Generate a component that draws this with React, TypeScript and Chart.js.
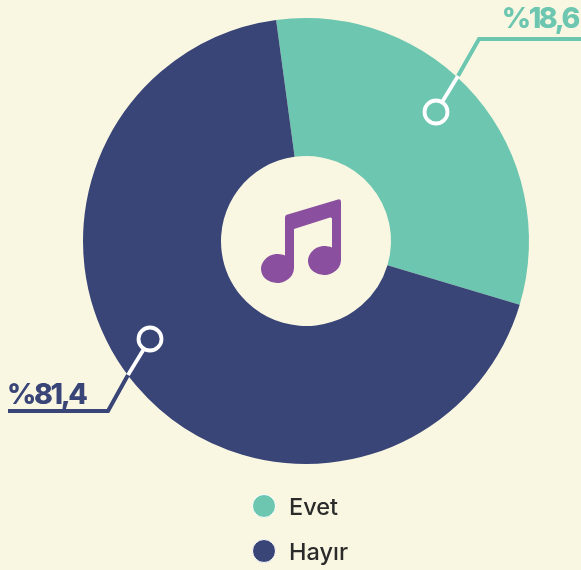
import React, { useEffect, useRef } from "react";
import { Chart, registerables } from "chart.js";

Chart.register(...registerables);

// The printed figures and the drawn slice angles disagree in the reference; both are kept as seen.
const categories = ["Evet", "Hayır"];
const printedLabels = ["%18,6", "%81,4"];
const sliceShares = [31.75, 68.25];
const sliceColors = ["#6DC6B0", "#3A4577"];
const BG = "#F9F7E2";
const NOTE = "#8A4F9E";
const FONT = "Inter, 'Noto Sans', sans-serif";

const overlay = {
  id: "overlay",
  afterDatasetsDraw(chart: any) {
    const ctx = chart.ctx as CanvasRenderingContext2D;
    const arc = chart.getDatasetMeta(0).data[0];
    const cx = arc.x;
    const cy = arc.y;
    ctx.save();
    ctx.translate(cx, cy);
    ctx.lineJoin = "miter";

    const leader = (
      color: string,
      c: [number, number],
      edge: [number, number],
      knee: [number, number],
      end: [number, number],
    ) => {
      const dx = edge[0] - c[0];
      const dy = edge[1] - c[1];
      const len = Math.hypot(dx, dy);
      ctx.lineWidth = 4;
      ctx.strokeStyle = color;
      ctx.beginPath();
      ctx.moveTo(edge[0], edge[1]);
      ctx.lineTo(knee[0], knee[1]);
      ctx.lineTo(end[0], end[1]);
      ctx.stroke();
      ctx.strokeStyle = "#FFFFFF";
      ctx.lineWidth = 3.8;
      ctx.beginPath();
      ctx.moveTo(c[0] + (dx / len) * 12, c[1] + (dy / len) * 12);
      ctx.lineTo(edge[0], edge[1]);
      ctx.stroke();
      ctx.beginPath();
      ctx.arc(c[0], c[1], 11.5, 0, Math.PI * 2);
      ctx.stroke();
    };
    leader(sliceColors[0], [130, -129], [152, -165], [173, -202], [275, -202]);
    leader(sliceColors[1], [-156, 98], [-178, 134], [-198, 170], [-298, 170]);

    ctx.font = `800 28.5px ${FONT}`;
    (ctx as any).letterSpacing = "-2.4px";
    ctx.textBaseline = "alphabetic";
    ctx.textAlign = "right";
    ctx.fillStyle = sliceColors[0];
    ctx.fillText(printedLabels[0], 272, -213);
    ctx.textAlign = "left";
    ctx.fillStyle = sliceColors[1];
    ctx.fillText(printedLabels[1], -299, 163);
    (ctx as any).letterSpacing = "0px";

    // music note
    ctx.fillStyle = NOTE;
    ctx.beginPath();
    ctx.moveTo(-20, -26);
    ctx.lineTo(32, -41.5);
    ctx.quadraticCurveTo(35, -42.5, 35, -39);
    ctx.lineTo(35, 20);
    ctx.lineTo(26, 20);
    ctx.lineTo(26, -22);
    ctx.quadraticCurveTo(26, -24, 24, -23.5);
    ctx.lineTo(-12, -12);
    ctx.lineTo(-12, 27);
    ctx.lineTo(-21, 27);
    ctx.lineTo(-21, -24);
    ctx.closePath();
    ctx.fill();
    ctx.beginPath();
    ctx.ellipse(-28.5, 27.5, 16.5, 14.5, -0.12, 0, Math.PI * 2);
    ctx.fill();
    ctx.beginPath();
    ctx.ellipse(18.5, 19.5, 16.5, 14.5, -0.12, 0, Math.PI * 2);
    ctx.fill();

    // legend
    ctx.font = `500 23.5px ${FONT}`;
    ctx.textAlign = "left";
    categories.forEach((name, i) => {
      const y = 265 + i * 45;
      ctx.fillStyle = sliceColors[i];
      ctx.strokeStyle = "#FFFFFF";
      ctx.lineWidth = 1;
      ctx.beginPath();
      ctx.arc(-42, y, 11.5, 0, Math.PI * 2);
      ctx.fill();
      ctx.stroke();
      ctx.fillStyle = "#2B2B2B";
      ctx.fillText(name, -17, y + 9);
    });
    ctx.restore();
  },
};

export default function App() {
  const ref = useRef<HTMLCanvasElement>(null);
  useEffect(() => {
    document.body.style.margin = "0";
    document.body.style.background = BG;
    const chart = new Chart(ref.current!, {
      type: "doughnut",
      data: {
        labels: categories,
        datasets: [
          { data: sliceShares, backgroundColor: sliceColors, borderWidth: 0 },
        ],
      },
      options: {
        responsive: false,
        maintainAspectRatio: false,
        animation: false,
        rotation: -7.7,
        cutout: 85,
        layout: { padding: { left: 83, right: 52, top: 18, bottom: 106 } },
        plugins: { legend: { display: false }, tooltip: { enabled: false } },
      },
      plugins: [overlay],
    });
    return () => chart.destroy();
  }, []);
  return (
    <canvas
      ref={ref}
      width={581}
      height={570}
      style={{ display: "block", position: "absolute", left: 0, top: 0, background: BG }}
    />
  );
}
